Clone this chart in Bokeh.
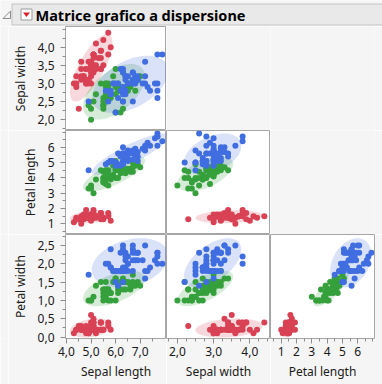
import numpy as np
from bokeh.plotting import figure
from bokeh.layouts import gridplot, column
from bokeh.models import Range1d, FixedTicker, CustomJSTickFormatter
from bokeh.embed import file_html
from bokeh.resources import INLINE
from bokeh.core.properties import value

# ---------------- data (Iris, as plotted) ----------------
species = ["setosa", "versicolor", "virginica"]
species_colors = ["#d84254", "#35a03c", "#406ee0"]

setosa_sepal_length = [5.1, 4.9, 4.7, 4.6, 5.0, 5.4, 4.6, 5.0, 4.4, 4.9, 5.4, 4.8, 4.8, 4.3, 5.8, 5.7, 5.4, 5.1, 5.7, 5.1,
                       5.4, 5.1, 4.6, 5.1, 4.8, 5.0, 5.0, 5.2, 5.2, 4.7, 4.8, 5.4, 5.2, 5.5, 4.9, 5.0, 5.5, 4.9, 4.4, 5.1,
                       5.0, 4.5, 4.4, 5.0, 5.1, 4.8, 5.1, 4.6, 5.3, 5.0]
setosa_sepal_width = [3.5, 3.0, 3.2, 3.1, 3.6, 3.9, 3.4, 3.4, 2.9, 3.1, 3.7, 3.4, 3.0, 3.0, 4.0, 4.4, 3.9, 3.5, 3.8, 3.8,
                      3.4, 3.7, 3.6, 3.3, 3.4, 3.0, 3.4, 3.5, 3.4, 3.2, 3.1, 3.4, 4.1, 4.2, 3.1, 3.2, 3.5, 3.6, 3.0, 3.4,
                      3.5, 2.3, 3.2, 3.5, 3.8, 3.0, 3.8, 3.2, 3.7, 3.3]
setosa_petal_length = [1.4, 1.4, 1.3, 1.5, 1.4, 1.7, 1.4, 1.5, 1.4, 1.5, 1.5, 1.6, 1.4, 1.1, 1.2, 1.5, 1.3, 1.4, 1.7, 1.5,
                       1.7, 1.5, 1.0, 1.7, 1.9, 1.6, 1.6, 1.5, 1.4, 1.6, 1.6, 1.5, 1.5, 1.4, 1.5, 1.2, 1.3, 1.4, 1.3, 1.5,
                       1.3, 1.3, 1.3, 1.6, 1.9, 1.4, 1.6, 1.4, 1.5, 1.4]
setosa_petal_width = [0.2, 0.2, 0.2, 0.2, 0.2, 0.4, 0.3, 0.2, 0.2, 0.1, 0.2, 0.2, 0.1, 0.1, 0.2, 0.4, 0.4, 0.3, 0.3, 0.3,
                      0.2, 0.4, 0.2, 0.5, 0.2, 0.2, 0.4, 0.2, 0.2, 0.2, 0.2, 0.4, 0.1, 0.2, 0.2, 0.2, 0.2, 0.1, 0.2, 0.2,
                      0.3, 0.3, 0.2, 0.6, 0.4, 0.3, 0.2, 0.2, 0.2, 0.2]

versicolor_sepal_length = [7.0, 6.4, 6.9, 5.5, 6.5, 5.7, 6.3, 4.9, 6.6, 5.2, 5.0, 5.9, 6.0, 6.1, 5.6, 6.7, 5.6, 5.8, 6.2, 5.6,
                           5.9, 6.1, 6.3, 6.1, 6.4, 6.6, 6.8, 6.7, 6.0, 5.7, 5.5, 5.5, 5.8, 6.0, 5.4, 6.0, 6.7, 6.3, 5.6, 5.5,
                           5.5, 6.1, 5.8, 5.0, 5.6, 5.7, 5.7, 6.2, 5.1, 5.7]
versicolor_sepal_width = [3.2, 3.2, 3.1, 2.3, 2.8, 2.8, 3.3, 2.4, 2.9, 2.7, 2.0, 3.0, 2.2, 2.9, 2.9, 3.1, 3.0, 2.7, 2.2, 2.5,
                          3.2, 2.8, 2.5, 2.8, 2.9, 3.0, 2.8, 3.0, 2.9, 2.6, 2.4, 2.4, 2.7, 2.7, 3.0, 3.4, 3.1, 2.3, 3.0, 2.5,
                          2.6, 3.0, 2.6, 2.3, 2.7, 3.0, 2.9, 2.9, 2.5, 2.8]
versicolor_petal_length = [4.7, 4.5, 4.9, 4.0, 4.6, 4.5, 4.7, 3.3, 4.6, 3.9, 3.5, 4.2, 4.0, 4.7, 3.6, 4.4, 4.5, 4.1, 4.5, 3.9,
                           4.8, 4.0, 4.9, 4.7, 4.3, 4.4, 4.8, 5.0, 4.5, 3.5, 3.8, 3.7, 3.9, 5.1, 4.5, 4.5, 4.7, 4.4, 4.1, 4.0,
                           4.4, 4.6, 4.0, 3.3, 4.2, 4.2, 4.2, 4.3, 3.0, 4.1]
versicolor_petal_width = [1.4, 1.5, 1.5, 1.3, 1.5, 1.3, 1.6, 1.0, 1.3, 1.4, 1.0, 1.5, 1.0, 1.4, 1.3, 1.4, 1.5, 1.0, 1.5, 1.1,
                          1.8, 1.3, 1.5, 1.2, 1.3, 1.4, 1.4, 1.7, 1.5, 1.0, 1.1, 1.0, 1.2, 1.6, 1.5, 1.6, 1.5, 1.3, 1.3, 1.3,
                          1.2, 1.4, 1.2, 1.0, 1.3, 1.2, 1.3, 1.3, 1.1, 1.3]

virginica_sepal_length = [6.3, 5.8, 7.1, 6.3, 6.5, 7.6, 4.9, 7.3, 6.7, 7.2, 6.5, 6.4, 6.8, 5.7, 5.8, 6.4, 6.5, 7.7, 7.7, 6.0,
                          6.9, 5.6, 7.7, 6.3, 6.7, 7.2, 6.2, 6.1, 6.4, 7.2, 7.4, 7.9, 6.4, 6.3, 6.1, 7.7, 6.3, 6.4, 6.0, 6.9,
                          6.7, 6.9, 5.8, 6.8, 6.7, 6.7, 6.3, 6.5, 6.2, 5.9]
virginica_sepal_width = [3.3, 2.7, 3.0, 2.9, 3.0, 3.0, 2.5, 2.9, 2.5, 3.6, 3.2, 2.7, 3.0, 2.5, 2.8, 3.2, 3.0, 3.8, 2.6, 2.2,
                         3.2, 2.8, 2.8, 2.7, 3.3, 3.2, 2.8, 3.0, 2.8, 3.0, 2.8, 3.8, 2.8, 2.8, 2.6, 3.0, 3.4, 3.1, 3.0, 3.1,
                         3.1, 3.1, 2.7, 3.2, 3.3, 3.0, 2.5, 3.0, 3.4, 3.0]
virginica_petal_length = [6.0, 5.1, 5.9, 5.6, 5.8, 6.6, 4.5, 6.3, 5.8, 6.1, 5.1, 5.3, 5.5, 5.0, 5.1, 5.3, 5.5, 6.7, 6.9, 5.0,
                          5.7, 4.9, 6.7, 4.9, 5.7, 6.0, 4.8, 4.9, 5.6, 5.8, 6.1, 6.4, 5.6, 5.1, 5.6, 6.1, 5.6, 5.5, 4.8, 5.4,
                          5.6, 5.1, 5.1, 5.9, 5.7, 5.2, 5.0, 5.2, 5.4, 5.1]
virginica_petal_width = [2.5, 1.9, 2.1, 1.8, 2.2, 2.1, 1.7, 1.8, 1.8, 2.5, 2.0, 1.9, 2.1, 2.0, 2.4, 2.3, 1.8, 2.2, 2.3, 1.5,
                         2.3, 2.0, 2.0, 1.8, 2.1, 1.8, 1.8, 1.8, 2.1, 1.6, 1.9, 2.0, 2.2, 1.5, 1.4, 2.3, 2.4, 1.8, 1.8, 2.1,
                         2.4, 2.3, 1.9, 2.3, 2.5, 2.3, 1.9, 2.0, 2.3, 1.8]

variable_names = ["Sepal length", "Sepal width", "Petal length", "Petal width"]

# axis ranges and ticks per variable
axis_ranges = {
    "Sepal length": (3.96, 8.07),
    "Sepal width": (1.70, 4.57),
    "Petal length": (0.30, 7.10),
    "Petal width": (-0.04, 2.80),
}
x_major_ticks = {
    "Sepal length": [4.0, 5.0, 6.0, 7.0],
    "Sepal width": [2.0, 3.0, 4.0],
    "Petal length": [1, 2, 3, 4, 5, 6],
}
x_minor_ticks = {
    "Sepal length": [4.5, 5.5, 6.5, 7.5],
    "Sepal width": [1.75, 2.25, 2.5, 2.75, 3.25, 3.5, 3.75, 4.25, 4.5],
    "Petal length": [0.5, 1.5, 2.5, 3.5, 4.5, 5.5, 6.5, 7.0],
}
y_major_ticks = {
    "Sepal width": [2.0, 2.5, 3.0, 3.5, 4.0],
    "Petal length": [1, 2, 3, 4, 5, 6],
    "Petal width": [0.0, 0.5, 1.0, 1.5, 2.0, 2.5],
}
y_minor_ticks = {
    "Sepal width": [1.75, 2.25, 2.75, 3.25, 3.75, 4.25, 4.5],
    "Petal length": [0.5, 1.5, 2.5, 3.5, 4.5, 5.5, 6.5, 7.0],
    "Petal width": [0.25, 0.75, 1.25, 1.75, 2.25, 2.75],
}
label_decimals = {"Sepal length": 1, "Sepal width": 1, "Petal length": 0, "Petal width": 1}

title_text = "Matrice grafico a dispersione"

# ---------------- helpers ----------------
data = {
    "setosa": {"Sepal length": setosa_sepal_length, "Sepal width": setosa_sepal_width,
               "Petal length": setosa_petal_length, "Petal width": setosa_petal_width},
    "versicolor": {"Sepal length": versicolor_sepal_length, "Sepal width": versicolor_sepal_width,
                   "Petal length": versicolor_petal_length, "Petal width": versicolor_petal_width},
    "virginica": {"Sepal length": virginica_sepal_length, "Sepal width": virginica_sepal_width,
                  "Petal length": virginica_petal_length, "Petal width": virginica_petal_width},
}

FONT = "Noto Sans"
BG = "#f5f5f5"
BORDER = "#a6a6a6"
CHI2_95 = 5.991
CELL = 104
PAD = 8       # blank strip left of the axis titles
LEFT = 54     # y-axis area (ticks, labels, axis title)
BOTTOM = 46
RIGHT = 8


def density_ellipse(x, y, n=120):
    x = np.asarray(x, float)
    y = np.asarray(y, float)
    cov = np.cov(x, y)
    vals, vecs = np.linalg.eigh(cov)
    t = np.linspace(0, 2 * np.pi, n)
    circ = np.vstack([np.cos(t), np.sin(t)])
    pts = vecs @ (np.sqrt(vals * CHI2_95)[:, None] * circ)
    return pts[0] + x.mean(), pts[1] + y.mean()


def fmt(decimals):
    return CustomJSTickFormatter(args=dict(d=decimals),
                                 code="return tick.toFixed(d).replace('.', ',');")


def style_axis(ax):
    ax.axis_line_color = None
    ax.major_tick_in = 0
    ax.major_tick_out = 5
    ax.minor_tick_in = 0
    ax.minor_tick_out = 3
    ax.major_tick_line_color = "#8c8c8c"
    ax.minor_tick_line_color = "#8c8c8c"
    ax.major_label_text_font = FONT
    ax.major_label_text_font_size = "12px"
    ax.major_label_text_color = "#1a1a1a"
    ax.axis_label_text_font = FONT
    ax.axis_label_text_font_size = "12px"
    ax.axis_label_text_font_style = "normal"
    ax.axis_label_text_color = "#1a1a1a"


def base_fig(w, h, **kw):
    p = figure(width=w, height=h, title=None, toolbar_location=None, output_backend="svg", min_border=0, **kw)
    p.xgrid.visible = False
    p.ygrid.visible = False
    p.border_fill_color = BG
    return p


def cell(xvar, yvar, left=False, bottom=False, right=False):
    w = CELL + (LEFT if left else 0) + (RIGHT if right else 0)
    h = CELL + (BOTTOM if bottom else 0)
    p = base_fig(w, h, x_range=Range1d(*axis_ranges[xvar]), y_range=Range1d(*axis_ranges[yvar]),
                 x_axis_location="below" if bottom else None,
                 y_axis_location="left" if left else None,
                 min_border_left=LEFT if left else 0,
                 min_border_bottom=BOTTOM if bottom else 0, min_border_right=RIGHT if right else 0)
    p.background_fill_color = "white"
    p.outline_line_color = BORDER
    for sp, col in zip(species, species_colors):
        ex, ey = density_ellipse(data[sp][xvar], data[sp][yvar])
        p.patch(ex, ey, fill_color=col, fill_alpha=0.2, line_color=None)
    for sp, col in zip(species, species_colors):
        p.scatter(data[sp][xvar], data[sp][yvar], size=6, fill_color=col, line_color=None)
    if bottom:
        ax = p.xaxis[0]
        ax.ticker = FixedTicker(ticks=x_major_ticks[xvar], minor_ticks=x_minor_ticks[xvar])
        ax.formatter = fmt(label_decimals[xvar])
        ax.axis_label = xvar
        style_axis(ax)
        ax.major_label_standoff = 3
        ax.axis_label_standoff = 4
    if left:
        ax = p.yaxis[0]
        ax.ticker = FixedTicker(ticks=y_major_ticks[yvar], minor_ticks=y_minor_ticks[yvar])
        ax.formatter = fmt(label_decimals[yvar])
        ax.axis_label = yvar
        style_axis(ax)
        ax.major_label_standoff = 6
        ax.axis_label_standoff = 6
    return p


def empty(w, h):
    p = base_fig(w, h, x_axis_location=None, y_axis_location=None,
                 x_range=Range1d(0, 1), y_range=Range1d(0, 1))
    p.background_fill_color = BG
    p.outline_line_color = None
    return p


# ---------------- title bar ----------------
TW, TH = PAD + LEFT + 3 * CELL + RIGHT, 26
title = base_fig(TW, TH, x_range=Range1d(0, TW), y_range=Range1d(TH, 0),
                 x_axis_location=None, y_axis_location=None)
title.background_fill_color = BG
title.outline_line_color = None
title.quad(left=[11.5], right=[TW + 2], top=[3.5], bottom=[24.5], fill_color="#e9e9e9", line_color="#c4c4c4")
title.patch([2.5, 10, 10], [18, 18, 10.5], fill_color=None, line_color="#8a8a8a", line_width=1)
title.quad(left=[20.5], right=[31.5], top=[8.5], bottom=[19.5], fill_color="white", line_color="#9a9a9a")
title.patch([22.5, 29.5, 26], [12, 12, 16.5], fill_color="#d8222c", line_color=None)
title.text(x=[35], y=[14], text=[title_text], text_font=value(FONT), text_font_style="bold",
           text_font_size="14.5px", text_baseline="middle", text_align="left", text_color="black")

# ---------------- matrix ----------------
f11 = cell("Sepal length", "Sepal width", left=True)
f21 = cell("Sepal length", "Petal length", left=True)
f22 = cell("Sepal width", "Petal length")
f31 = cell("Sepal length", "Petal width", left=True, bottom=True)
f32 = cell("Sepal width", "Petal width", bottom=True)
f33 = cell("Petal length", "Petal width", bottom=True, right=True)

grid = gridplot([[empty(PAD, CELL), f11, empty(CELL, CELL), empty(CELL + RIGHT, CELL)],
                 [empty(PAD, CELL), f21, f22, empty(CELL + RIGHT, CELL)],
                 [empty(PAD, CELL + BOTTOM), f31, f32, f33]], toolbar_location=None)

layout = column(title, grid)
open("out.html", "w").write(file_html(layout, INLINE))
